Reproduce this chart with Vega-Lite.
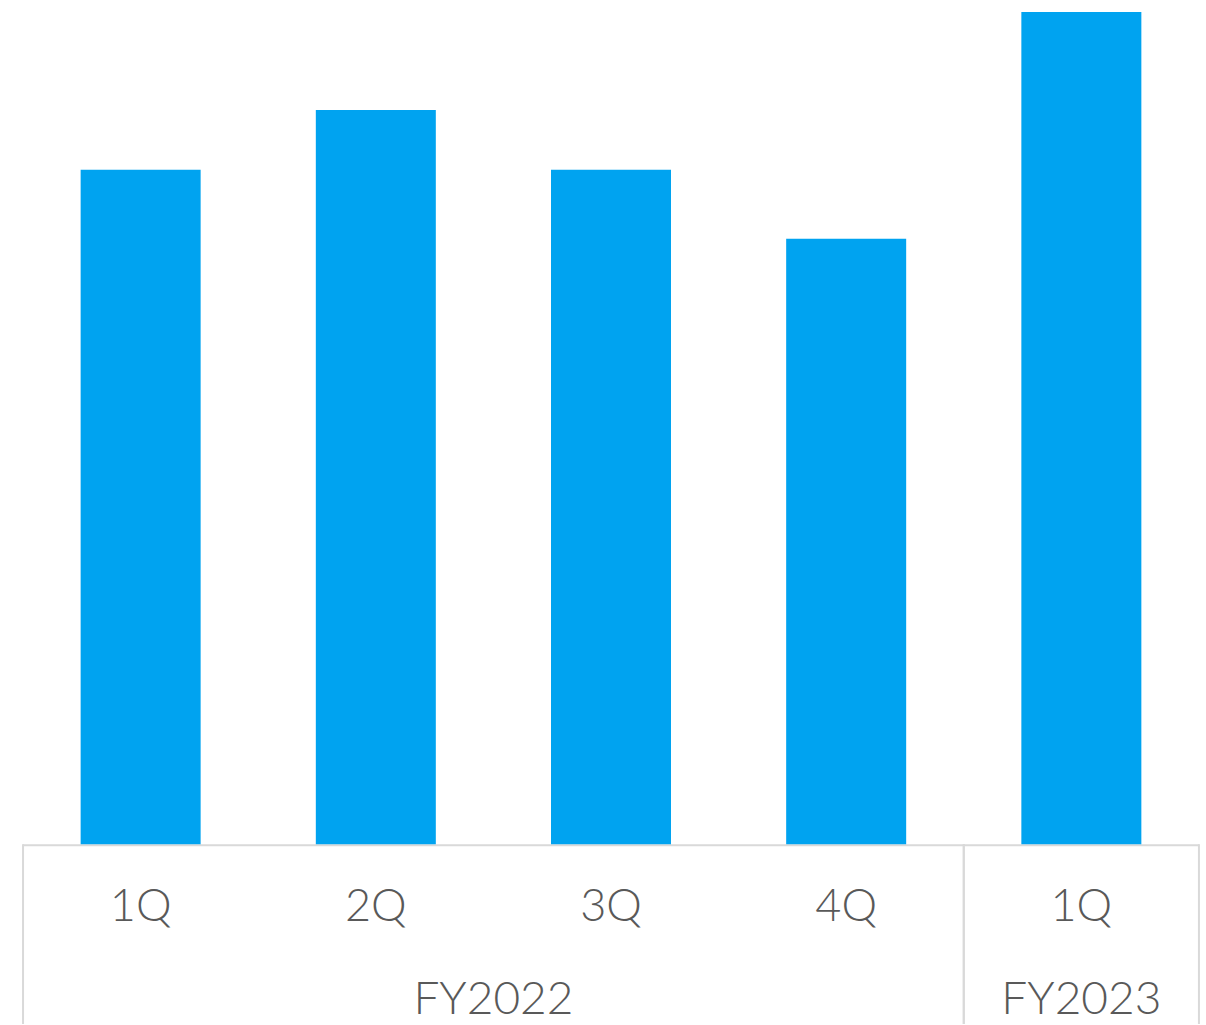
{
  "$schema": "https://vega.github.io/schema/vega-lite/v6.json",
  "width": 1206,
  "height": 1025,
  "autosize": {"type": "fit", "contains": "padding"},
  "padding": 0,
  "background": "white",
  "config": {"view": {"stroke": null}},
  "data": {
    "values": [
      {"year": "FY2022", "quarter": "1Q", "slot": 1, "value": 675},
      {"year": "FY2022", "quarter": "2Q", "slot": 2, "value": 735},
      {"year": "FY2022", "quarter": "3Q", "slot": 3, "value": 675},
      {"year": "FY2022", "quarter": "4Q", "slot": 4, "value": 606},
      {"year": "FY2023", "quarter": "1Q", "slot": 5, "value": 833}
    ]
  },
  "encoding": {
    "x": {
      "type": "quantitative",
      "scale": {"domain": [0.402, 5.53], "nice": false, "zero": false, "padding": 0},
      "axis": null
    },
    "y": {
      "type": "quantitative",
      "scale": {"domain": [-180, 845], "nice": false, "zero": false, "padding": 0},
      "axis": null
    }
  },
  "layer": [
    {
      "transform": [
        {"aggregate": [{"op": "min", "field": "slot", "as": "first"}, {"op": "max", "field": "slot", "as": "last"}], "groupby": ["year"]},
        {"calculate": "datum.first - 0.5", "as": "lo"},
        {"calculate": "datum.last + 0.5", "as": "hi"},
        {"fold": ["lo", "hi"], "as": ["side", "edge"]}
      ],
      "mark": {"type": "rule", "stroke": "#D9D9D9", "strokeWidth": 2},
      "encoding": {
        "x": {"field": "edge", "type": "quantitative"},
        "y": {"datum": 0},
        "y2": {"datum": -180}
      }
    },
    {
      "transform": [
        {"aggregate": [{"op": "min", "field": "slot", "as": "first"}, {"op": "max", "field": "slot", "as": "last"}]},
        {"calculate": "datum.first - 0.5", "as": "lo"},
        {"calculate": "datum.last + 0.5", "as": "hi"}
      ],
      "mark": {"type": "rule", "stroke": "#D9D9D9", "strokeWidth": 2},
      "encoding": {
        "x": {"field": "lo", "type": "quantitative"},
        "x2": {"field": "hi"},
        "y": {"datum": -1}
      }
    },
    {
      "mark": {"type": "bar", "color": "#00A3F0", "size": 120},
      "encoding": {
        "x": {"field": "slot", "type": "quantitative"},
        "y": {"field": "value", "type": "quantitative"}
      }
    },
    {
      "mark": {"type": "text", "font": "Lato", "fontWeight": 300, "fontSize": 45, "color": "#595959", "baseline": "alphabetic", "align": "center"},
      "encoding": {
        "x": {"field": "slot", "type": "quantitative"},
        "y": {"datum": -77},
        "text": {"field": "quarter"}
      }
    },
    {
      "transform": [
        {"aggregate": [{"op": "mean", "field": "slot", "as": "mid"}], "groupby": ["year"]}
      ],
      "mark": {"type": "text", "font": "Lato", "fontWeight": 300, "fontSize": 46, "color": "#595959", "baseline": "alphabetic", "align": "center"},
      "encoding": {
        "x": {"field": "mid", "type": "quantitative"},
        "y": {"datum": -170},
        "text": {"field": "year"}
      }
    }
  ]
}
